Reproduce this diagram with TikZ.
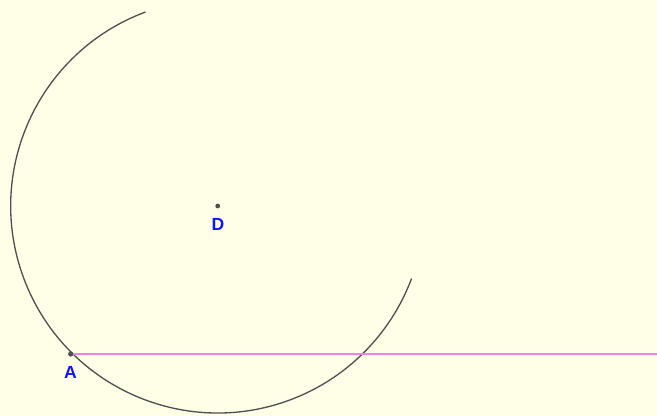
\documentclass[tikz,border=0pt]{standalone}
\usepackage{fontspec}
\setsansfont{Liberation Sans}
\definecolor{paper}{RGB}{255,255,231}
\definecolor{linepink}{RGB}{240,128,240}
\definecolor{labelblue}{RGB}{20,20,240}
\definecolor{ptgray}{RGB}{80,80,80}
\tikzset{
  ptlabel/.style={text=labelblue,font=\sffamily\bfseries,inner sep=0pt}
}
\begin{document}
\begin{tikzpicture}[x=0.02cm,y=0.02cm]
				\fill[paper] (0,0) rectangle (657,416);
				\useasboundingbox (0,0) rectangle (657,416);
				\coordinate (D) at (217.7,210);
				\coordinate (A) at (70.7,62);
				\coordinate (E) at (657,62);
				\draw[ptgray,line width=0.75pt] (D) ++(110.4:207) arc[start angle=110.4,end angle=339.5,radius=207];
				\draw[linepink,line width=1.4pt] (A) -- (E);
				\fill[ptgray] (D) circle (2.4);
				\fill[ptgray] (A) circle (2.6);
				\node[ptlabel] (Dlab) at (218,192) {D};
				\node[ptlabel] (Alab) at (70.5,44) {A};
			\end{tikzpicture}
\end{document}
